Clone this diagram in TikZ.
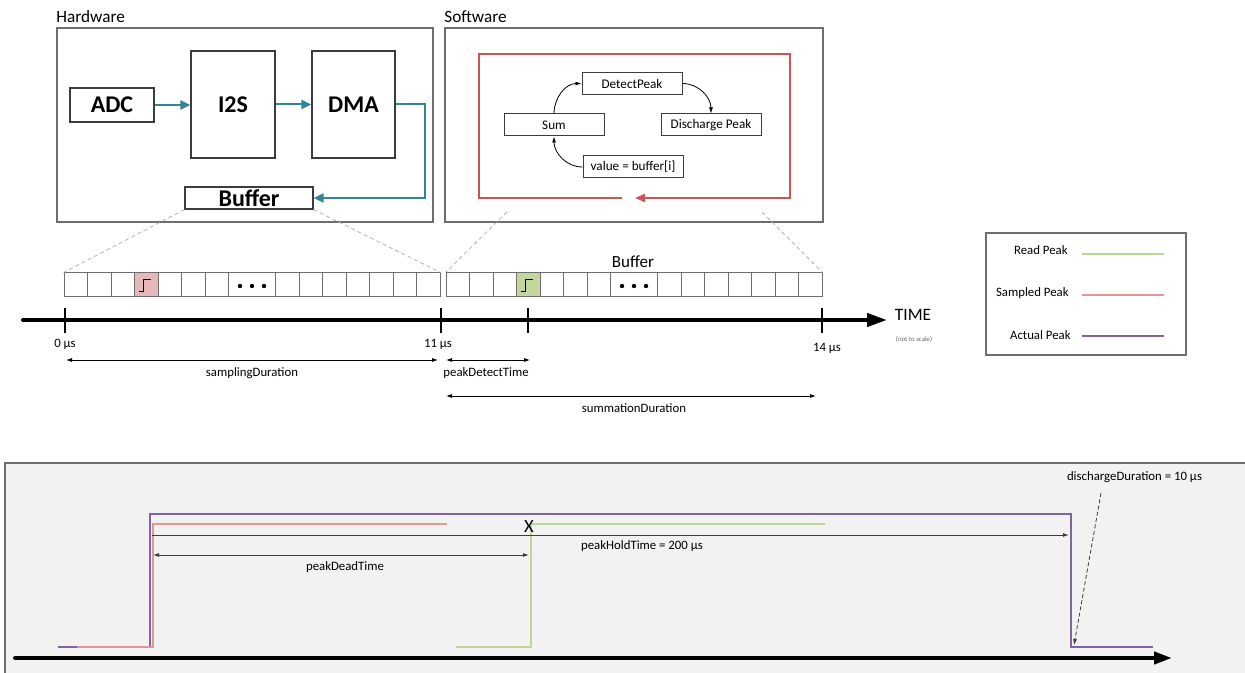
\documentclass[tikz,border=0pt]{standalone}
\usepackage{fontspec}
\setmainfont{Carlito}
\usetikzlibrary{arrows.meta}
\definecolor{tealA}{RGB}{49,132,155}
\definecolor{redA}{RGB}{208,84,78}
\definecolor{frameG}{RGB}{110,110,110}
\definecolor{pinkF}{RGB}{230,185,184}
\definecolor{greenF}{RGB}{196,215,155}
\definecolor{purpleL}{RGB}{128,100,162}
\definecolor{pinkL}{RGB}{228,150,148}
\definecolor{greenL}{RGB}{190,214,150}
\definecolor{panelbg}{RGB}{242,242,242}
\definecolor{dimG}{RGB}{60,60,60}
\begin{document}
\begin{tikzpicture}[x=0.5pt,y=-0.5pt,
  frame/.style={draw=frameG, line width=0.65pt, inner sep=0pt},
  hwblock/.style={draw=dimG, line width=0.6pt, inner sep=0pt, font=\fontsize{12}{14}\selectfont\bfseries},
  swblock/.style={draw=dimG, line width=0.5pt, inner sep=0pt, minimum width=50pt, minimum height=11pt, font=\fontsize{6.6}{8}\selectfont},
  title/.style={anchor=base west, inner sep=0pt, font=\fontsize{8.6}{10}\selectfont},
  small/.style={anchor=base, inner sep=0pt, font=\fontsize{6.4}{8}\selectfont},
  cell/.style={draw=frameG, line width=0.5pt, minimum width=11.75pt, minimum height=12pt, inner sep=0pt},
  tealarrow/.style={draw=tealA, line width=1pt, -{Triangle[length=5pt,width=4.5pt]}},
  redline/.style={draw=redA, line width=1pt, -{Triangle[length=5pt,width=4pt]}},
  flow/.style={draw=black, line width=0.4pt, -{Latex[length=3pt,width=2pt]}},
  zoomline/.style={draw=black!30, line width=0.4pt, dash pattern=on 2pt off 1.5pt},
  axis/.style={draw=black, line width=2pt, line cap=round},
  tick/.style={draw=black, line width=1pt},
  dim/.style={draw=black, line width=0.4pt, {Latex[length=3pt,width=2pt]}-{Latex[length=3pt,width=2pt]}},
  wave/.style={line width=1pt},
  legline/.style={line width=0.9pt}
]
\useasboundingbox (0,0) rectangle (1245,673);
\fill[white] (0,0) rectangle (1245,673);

% ---------- Hardware ----------
\node[title] (hwlabel) at (56,23) {Hardware};
\node[frame, minimum width=188pt, minimum height=97pt] (hw) at (245,125) {};
\node[hwblock, minimum width=42pt, minimum height=17pt] (adc) at (112,105) {ADC};
\node[hwblock, minimum width=42pt, minimum height=53.5pt] (i2s) at (233,104.5) {I2S};
\node[hwblock, minimum width=41.5pt, minimum height=53.5pt] (dma) at (353.5,104.5) {DMA};
\node[hwblock, minimum width=64pt, minimum height=11pt] (buf) at (249,198) {Buffer};
\draw[tealarrow] (adc.east) -- (adc.east -| i2s.west);
\draw[tealarrow] (i2s.east) -- (dma.west);
\draw[tealarrow] (dma.east) -- ++(29,0) |- (buf.east);

% ---------- Software ----------
\node[title] (swlabel) at (444,23) {Software};
\node[frame, minimum width=189pt, minimum height=97pt] (sw) at (634,125) {};
\coordinate (rs) at (622,198);
\coordinate (re) at (635,198);
\draw[redline] (rs) -- (479,198) -- (479,54) -- (790,54) -- (790,198) -- (re);
\node[swblock] (dp) at (632,83.5) {DetectPeak};
\node[swblock] (sum) at (554,125) {Sum};
\node[swblock] (dis) at (711,125) {Discharge Peak};
\node[swblock] (val) at (633,167) {value = buffer[i]};
\draw[flow] (sum.north) to[out=90,in=180] (dp.west);
\draw[flow] (dp.east) to[out=0,in=90] (dis.north);
\draw[flow] (val.west) to[out=180,in=-90] (sum.south);

% ---------- Buffer strips ----------
\foreach \s/\xo in {a/64,b/446}{
  \foreach \i in {0,...,6}{\node[cell] (\s\i) at ({\xo+23.5*\i+11.75},285) {};}
  \node[cell, minimum width=23.5pt] (\s dots) at ({\xo+188},285) {};
  \foreach \i in {7,...,13}{\node[cell] (\s\i) at ({\xo+211.5+23.5*(\i-7)+11.75},285) {};}
  \foreach \d in {-12,0,12}{\fill ([shift={(\d,1)}]\s dots.center) circle (1.1pt);}
}
\node[cell, fill=pinkF] (pa) at (a3) {};
\node[cell, fill=greenF] (pb) at (b3) {};
\foreach \c in {pa,pb}{
  \draw[line width=0.5pt] ([shift={(-7.2,6.7)}]\c.center) -- ++(4.7,0) -- ++(0,-11.7) -- ++(7.7,0);
}
\node[anchor=base, inner sep=0pt, font=\fontsize{8.5}{10}\selectfont] (buflabel) at (633,268) {Buffer};

% zoom lines
\draw[zoomline] (buf.south west) -- (a0.north west);
\draw[zoomline] (buf.south east) -- (a13.north east);
\coordinate (sz1) at (507,212);
\coordinate (sz2) at (762,212);
\draw[zoomline] (sz1) -- (b0.north west);
\draw[zoomline] (sz2) -- (b13.north east);

% ---------- Time axis ----------
\coordinate (ax0) at (23,320);
\coordinate (ax1) at (887,320);
\draw[axis, -{Triangle[length=10pt,width=6.5pt]}] (ax0) -- (ax1);
\node[anchor=base, inner sep=0pt, font=\fontsize{8.7}{10}\selectfont] (time) at (913,321) {TIME};
\node[anchor=base, inner sep=0pt, font=\fontsize{3.4}{4}\selectfont, text=black!60] (nts) at (914,341) {(not to scale)};
\foreach \x in {65,441,528,822}{\draw[tick] (\x,308) -- (\x,333);}
\node[small] (l0) at (65,347) {0 µs};
\node[small] (l11) at (438,347) {11 µs};
\node[small] (l14) at (827,351) {14 µs};

\coordinate (sd0) at (66,360);  \coordinate (sd1) at (438,360);
\draw[dim] (sd0) -- (sd1);
\node[small] (sdl) at (252,376) {samplingDuration};
\coordinate (pd0) at (446,360); \coordinate (pd1) at (530,360);
\draw[dim] (pd0) -- (pd1);
\node[small] (pdl) at (486,376) {peakDetectTime};
\coordinate (su0) at (446,396); \coordinate (su1) at (816,396);
\draw[dim] (su0) -- (su1);
\node[small] (sul) at (634,412) {summationDuration};

% ---------- Legend ----------
\node[frame, minimum width=100pt, minimum height=61pt] (legend) at (1086,294) {};
\node[small, anchor=base east] (lr) at (1068,255) {Read Peak};
\node[small, anchor=base east] (ls) at (1069,297) {Sampled Peak};
\node[small, anchor=base east] (la) at (1071,339) {Actual Peak};
\draw[legline, greenL] (1082,254) -- (1164,254);
\draw[legline, pinkL] (1082,295) -- (1164,295);
\draw[legline, purpleL] (1082,336) -- (1164,336);

% ---------- Bottom panel ----------
\draw[draw=frameG, line width=0.6pt, fill=panelbg] (5,463) rectangle (1255,685);
\draw[wave, purpleL] (58,647) -- (150,647) -- (150,514) -- (1071,514) -- (1071,647) -- (1153,647);
\draw[wave, pinkL] (77,647) -- (152.5,647) -- (152.5,524) -- (447,524);
\draw[wave, greenL] (456,647) -- (530.5,647) -- (530.5,524) -- (825,524);
\node[inner sep=0pt, font=\fontsize{9.3}{10}\selectfont] (xmark) at (529,527) {X};
\coordinate (ph0) at (152,535); \coordinate (ph1) at (1069,535);
\draw[draw=dimG, line width=0.5pt, -{Latex[length=3pt,width=2pt]}] (ph0) -- (ph1);
\node[small] (phl) at (642,549) {peakHoldTime = 200 µs};
\coordinate (pt0) at (153,555); \coordinate (pt1) at (529,555);
\draw[dim, draw=dimG] (pt0) -- (pt1);
\node[small] (ptl) at (345,570) {peakDeadTime};
\node[small] (ddl) at (1134.5,480) {dischargeDuration = 10 µs};
\coordinate (dd1) at (1074,645);
\draw[draw=dimG, line width=0.4pt, dash pattern=on 2pt off 1.2pt, -{Latex[length=3pt,width=2pt]}] (1101,493) -- (dd1);
\coordinate (bx0) at (15,658); \coordinate (bx1) at (1172,658);
\draw[axis, -{Triangle[length=9pt,width=6pt]}] (bx0) -- (bx1);
\end{tikzpicture}
\end{document}
